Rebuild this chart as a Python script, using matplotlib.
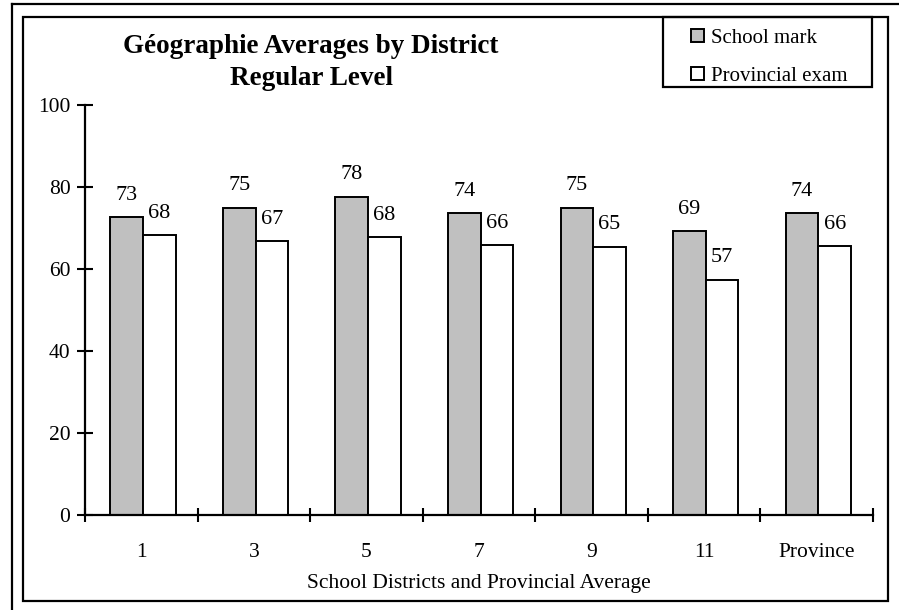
import numpy as np
import matplotlib
matplotlib.use("Agg")
import matplotlib.pyplot as plt
from matplotlib.lines import Line2D
from matplotlib.patches import Rectangle

# data
districts = ['1', '3', '5', '7', '9', '11', 'Province']
school_mark = [72.6, 75.0, 77.6, 73.6, 75.0, 69.2, 73.6]
prov_exam = [68.2, 66.8, 67.7, 65.8, 65.4, 57.4, 65.6]
yticks = [0, 20, 40, 60, 80, 100]

plt.rcParams['font.family'] = ['Liberation Serif', 'DejaVu Serif']

W, H = 899, 610
fig = plt.figure(figsize=(W / 100, H / 100), dpi=100)

def fx(px):
    return px / W

def fy(py):
    return 1 - py / H

# double frame around the chart
fig.add_artist(Line2D([fx(12), fx(12)], [fy(4), fy(640)], color='black', lw=1.6))
fig.add_artist(Line2D([fx(12), fx(940)], [fy(4), fy(4)], color='black', lw=1.6))
fig.add_artist(Rectangle((fx(22.7), fy(600.7)), fx(888) - fx(22.7), fy(16.7) - fy(600.7),
                         transform=fig.transFigure, fill=False, ec='black', lw=1.6))

ax = fig.add_axes([fx(85), fy(515), fx(873) - fx(85), fy(105) - fy(515)])
x = np.arange(len(districts))
w = 0.29
b1 = ax.bar(x - 0.13, school_mark, w, color='#c0c0c0', edgecolor='black', lw=1.4,
            label='School mark')
b2 = ax.bar(x + 0.16, prov_exam, w, color='white', edgecolor='black', lw=1.4,
            label='Provincial exam')

for bars in (b1, b2):
    for r in bars:
        ax.annotate('%.0f' % r.get_height(), (r.get_x() + r.get_width() / 2, r.get_height()),
                    xytext=(0, 9), textcoords='offset points', ha='center', va='bottom',
                    fontsize=16)

ax.set_xlim(-0.5, len(districts) - 0.5)
ax.set_ylim(0, 100)
ax.set_yticks(yticks)
ax.set_xticks(x)
ax.set_xticklabels(districts)
ax.set_xticks(np.arange(len(districts) + 1) - 0.5, minor=True)
ax.tick_params(axis='x', which='major', length=0, pad=20, labelsize=15.5)
ax.tick_params(axis='x', which='minor', direction='inout', length=10, width=1.5)
ax.tick_params(axis='y', direction='inout', length=11, width=1.5, pad=5, labelsize=15.5)
for s in ('top', 'right'):
    ax.spines[s].set_visible(False)
for s in ('left', 'bottom'):
    ax.spines[s].set_linewidth(1.6)
ax.set_xlabel('School Districts and Provincial Average', fontsize=15.5, labelpad=9)

fig.text(fx(311), fy(53), 'Géographie Averages by District',
         ha='center', va='baseline', fontsize=19.5, fontweight='bold')
fig.text(fx(311), fy(85), 'Regular Level',
         ha='center', va='baseline', fontsize=19.5, fontweight='bold')

# legend: box drawn separately so its size matches
fig.add_artist(Rectangle((fx(662.7), fy(87.3)), fx(872) - fx(662.7), fy(17.3) - fy(87.3),
                         transform=fig.transFigure, fill=False, ec='black', lw=1.6))
leg = fig.legend(loc='upper left', bbox_to_anchor=(fx(691), fy(29)), fontsize=15,
                 frameon=False, handlelength=0.6, handleheight=0.6, handletextpad=0.35,
                 labelspacing=0.9, borderpad=0, borderaxespad=0)

fig.savefig('out.png', dpi=100)
